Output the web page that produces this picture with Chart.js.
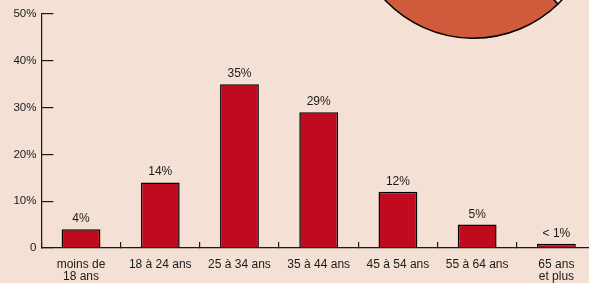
<!DOCTYPE html>
<html>
<head>
<meta charset="utf-8">
<script src="https://cdn.jsdelivr.net/npm/chart.js@4/dist/chart.umd.min.js"></script>
<style>
    html, body { margin: 0; padding: 0; background: #f5e0d5; overflow: hidden; }
    #wrap { position: relative; width: 589px; height: 283px; overflow: hidden; }
    #pieChart { position: absolute; left: 351px; top: -206px; }
    #barChart { position: absolute; left: 0; top: 0; }
</style>
</head>
<body>
<div id="wrap">
    <canvas id="pieChart" width="245" height="245"></canvas>
    <canvas id="barChart" width="600" height="283"></canvas>
</div>
<script>
'use strict'

// age groups
const ageGroups = [
    ['moins de', '18 ans'],
    '18 à 24 ans',
    '25 à 34 ans',
    '35 à 44 ans',
    '45 à 54 ans',
    '55 à 64 ans',
    ['65 ans', 'et plus']
];

// share of each group (%)
const shareValues = [4, 14, 35, 29, 12, 5, 0.9];
const shareLabels = ['4%', '14%', '35%', '29%', '12%', '5%', '< 1%'];

// y ticks
const yTicks = [0, 10, 20, 30, 40, 50];

// decorative pie in the corner
const pieValues = [85, 15];

const font = '"Liberation Sans", Arial, Helvetica, sans-serif';
const ink = '#1a1a1a';

const valueLabels = {
    id: 'valueLabels',
    afterDatasetsDraw(chart) {
        const ctx = chart.ctx;
        const meta = chart.getDatasetMeta(0);
        ctx.save();
        ctx.font = '12px ' + font;
        ctx.fillStyle = ink;
        ctx.textAlign = 'center';
        ctx.textBaseline = 'alphabetic';
        meta.data.forEach((bar, i) => {
            ctx.fillText(shareLabels[i], bar.x, bar.y - 7);
        });
        ctx.restore();
    }
};

new Chart(document.getElementById('pieChart'), {
    type: 'pie',
    data: {
        datasets: [{
            data: pieValues,
            backgroundColor: ['#cf5a3c', '#f5e0d5'],
            borderColor: '#000',
            borderWidth: 1.5
        }]
    },
    options: {
        responsive: false,
        animation: false,
        rotation: 136,
        plugins: { legend: { display: false }, tooltip: { enabled: false } }
    }
});

new Chart(document.getElementById('barChart'), {
    type: 'bar',
    data: {
        labels: ageGroups,
        datasets: [{
            data: shareValues,
            backgroundColor: '#c00a1e',
            borderColor: '#000',
            borderWidth: 1.5,
            borderSkipped: 'bottom',
            categoryPercentage: 1,
            barPercentage: 0.49
        }]
    },
    options: {
        responsive: false,
        animation: false,
        layout: { padding: { top: 14, right: 4, left: 0, bottom: 0 } },
        plugins: { legend: { display: false }, tooltip: { enabled: false } },
        scales: {
            x: {
                grid: { offset: true, drawOnChartArea: false, tickLength: -6, color: ink, lineWidth: 1.2 },
                border: { color: ink, width: 1.2 },
                ticks: {
                    padding: 17,
                    maxRotation: 0,
                    autoSkip: false,
                    color: ink,
                    font: { family: font, size: 12, lineHeight: 1.0 }
                },
                afterFit(scale) {
                    scale.height = 35;
                    scale.paddingLeft = 0;
                    scale.paddingRight = 0;
                }
            },
            y: {
                min: 0,
                max: 50,
                afterBuildTicks(scale) { scale.ticks = yTicks.map(v => ({ value: v })); },
                grid: { drawOnChartArea: false, tickLength: -12, color: ink, lineWidth: 1.2 },
                border: { color: ink, width: 1.2 },
                ticks: {
                    padding: 17,
                    color: ink,
                    font: { family: font, size: 11.5 },
                    callback: v => v === 0 ? '0' : v + '%'
                },
                afterFit(scale) {
                    scale.width = 41.4;
                    scale.paddingTop = 0;
                    scale.paddingBottom = 0;
                }
            }
        }
    },
    plugins: [valueLabels]
});
</script>
</body>
</html>
